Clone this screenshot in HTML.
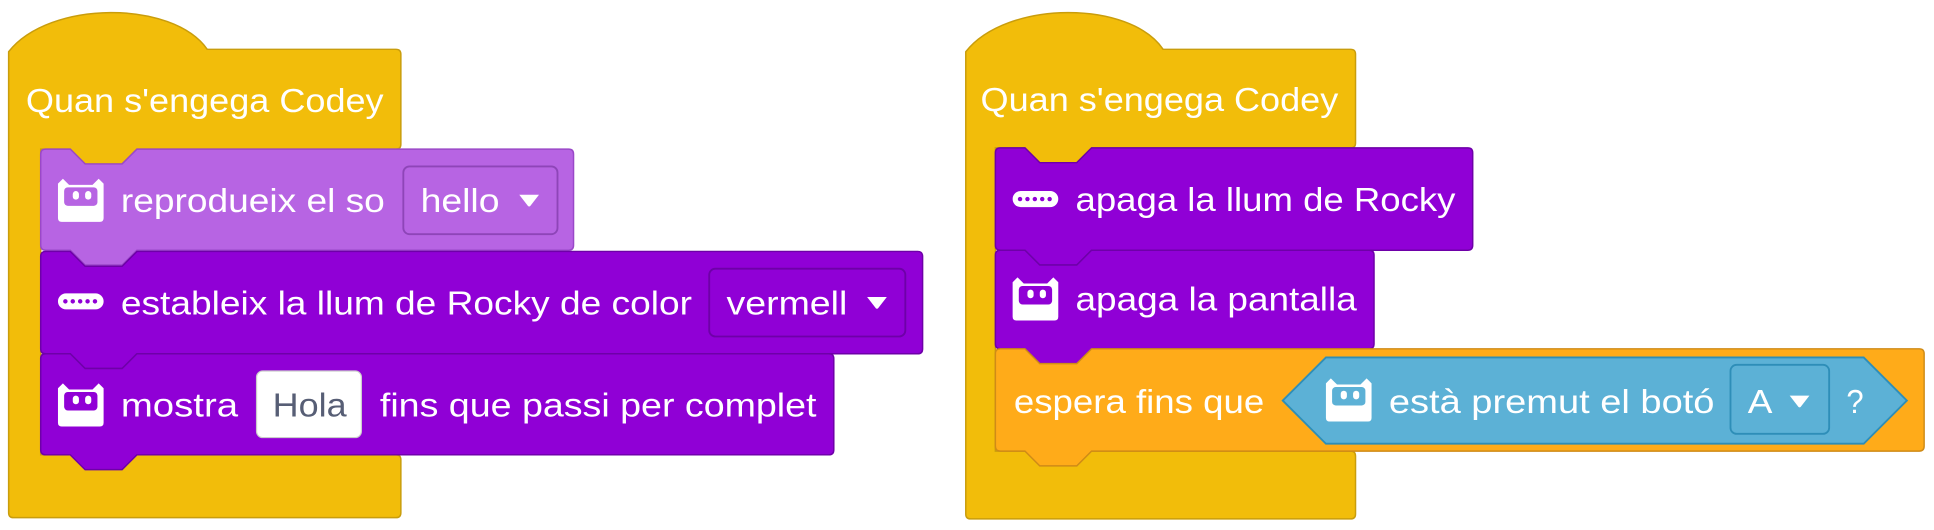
<!DOCTYPE html>
<html><head><meta charset="utf-8"><style>
html,body{margin:0;padding:0;background:#fff;}
svg{display:block;}
text{font-family:"Liberation Sans",sans-serif;font-size:27px;fill:#fff;}
</style></head><body>
<svg width="1934" height="530" viewBox="0 0 1568 430" preserveAspectRatio="none" xmlns="http://www.w3.org/2000/svg">
<defs>
<g id="robot">
<path d="M0,4 L0,32 Q0,35 3,35 L34,35 Q37,35 37,32 L37,4 L33,0 L28,5 L9,5 L4,0 Z" fill="#fff"/>
</g>
<g id="led">
<rect x="0" y="0" width="37" height="13" rx="6.5" fill="#fff"/>
</g>
</defs>

<!-- LEFT STACK -->
<path d="M7,42 C40,0 140,0 168,40 H321 Q325,40 325,44 V117 Q325,121 321,121 H111 L99,133 H69 L57,121 H33 V369 H321 Q325,369 325,373 V416 Q325,420 321,420 H11 Q7,420 7,416 Z" fill="#f2bd0a" stroke="#c99d0c" stroke-width="1.2"/>
<text x="21" y="91" textLength="290" lengthAdjust="spacingAndGlyphs">Quan s'engega Codey</text>

<path d="M33,125 Q33,121 37,121 H57 L69,133 H99 L111,121 H461 Q465,121 465,125 V199 Q465,203 461,203 H111 L99,215 H69 L57,203 H37 Q33,203 33,199 Z" fill="#b764e3" stroke="#9a48c8" stroke-width="1.2"/>
<use href="#robot" x="47" y="145"/>
<rect x="52" y="152" width="27" height="15" rx="3" fill="#b764e3"/>
<rect x="59" y="155" width="5" height="7" rx="2.5" fill="#fff"/><rect x="69" y="155" width="5" height="7" rx="2.5" fill="#fff"/>
<text x="98" y="172" textLength="214" lengthAdjust="spacingAndGlyphs">reprodueix el so</text>
<rect x="327" y="135" width="125" height="55" rx="5" fill="#b764e3" stroke="#8e45b8" stroke-width="1.5"/>
<text x="341" y="172" textLength="64" lengthAdjust="spacingAndGlyphs">hello</text>
<path d="M421,158 H437 L430,167 Q429,168 428,167 Z" fill="#fff"/>

<path d="M33,208 Q33,204 37,204 H57 L69,216 H99 L111,204 H744 Q748,204 748,208 V283 Q748,287 744,287 H111 L99,299 H69 L57,287 H37 Q33,287 33,283 Z" fill="#9000d6" stroke="#6e00a8" stroke-width="1.2"/>
<use href="#led" x="47" y="238"/>
<circle cx="53" cy="244.5" r="1.8" fill="#9000d6"/><circle cx="59" cy="244.5" r="1.8" fill="#9000d6"/><circle cx="65" cy="244.5" r="1.8" fill="#9000d6"/><circle cx="71" cy="244.5" r="1.8" fill="#9000d6"/><circle cx="77" cy="244.5" r="1.8" fill="#9000d6"/>
<text x="98" y="255" textLength="463" lengthAdjust="spacingAndGlyphs">estableix la llum de Rocky de color</text>
<rect x="575" y="218" width="159" height="55" rx="5" fill="#9000d6" stroke="#6e00a8" stroke-width="1.5"/>
<text x="589" y="255" textLength="98" lengthAdjust="spacingAndGlyphs">vermell</text>
<path d="M703,241 H719 L712,250 Q711,251 710,250 Z" fill="#fff"/>

<path d="M33,291 Q33,287 37,287 H57 L69,299 H99 L111,287 H672 Q676,287 676,291 V365 Q676,369 672,369 H111 L99,381 H69 L57,369 H37 Q33,369 33,365 Z" fill="#9000d6" stroke="#6e00a8" stroke-width="1.2"/>
<use href="#robot" x="47" y="311"/>
<rect x="52" y="318" width="27" height="15" rx="3" fill="#9000d6"/>
<rect x="59" y="321" width="5" height="7" rx="2.5" fill="#fff"/><rect x="69" y="321" width="5" height="7" rx="2.5" fill="#fff"/>
<text x="98" y="338" textLength="95" lengthAdjust="spacingAndGlyphs">mostra</text>
<rect x="208" y="301" width="85" height="54" rx="5" fill="#fff" stroke="#ccc" stroke-width="1"/>
<text x="221" y="338" textLength="60" lengthAdjust="spacingAndGlyphs" style="fill:#575e75">Hola</text>
<text x="308" y="338" textLength="354" lengthAdjust="spacingAndGlyphs">fins que passi per complet</text>

<!-- RIGHT STACK -->
<path d="M783,42 C816,0 916,0 943,40 H1095 Q1099,40 1099,44 V116 Q1099,120 1095,120 H885 L873,132 H843 L831,120 H807 V366 H1095 Q1099,366 1099,370 V417 Q1099,421 1095,421 H787 Q783,421 783,417 Z" fill="#f2bd0a" stroke="#c99d0c" stroke-width="1.2"/>
<text x="795" y="90" textLength="290" lengthAdjust="spacingAndGlyphs">Quan s'engega Codey</text>

<path d="M807,124 Q807,120 811,120 H831 L843,132 H873 L885,120 H1190 Q1194,120 1194,124 V199 Q1194,203 1190,203 H885 L873,215 H843 L831,203 H811 Q807,203 807,199 Z" fill="#9000d6" stroke="#6e00a8" stroke-width="1.2"/>
<use href="#led" x="821" y="155"/>
<circle cx="827" cy="161.5" r="1.8" fill="#9000d6"/><circle cx="833" cy="161.5" r="1.8" fill="#9000d6"/><circle cx="839" cy="161.5" r="1.8" fill="#9000d6"/><circle cx="845" cy="161.5" r="1.8" fill="#9000d6"/><circle cx="851" cy="161.5" r="1.8" fill="#9000d6"/>
<text x="872" y="171" textLength="308" lengthAdjust="spacingAndGlyphs">apaga la llum de Rocky</text>

<path d="M807,207 Q807,203 811,203 H831 L843,215 H873 L885,203 H1110 Q1114,203 1114,207 V279 Q1114,283 1110,283 H885 L873,295 H843 L831,283 H811 Q807,283 807,279 Z" fill="#9000d6" stroke="#6e00a8" stroke-width="1.2"/>
<use href="#robot" x="821" y="225"/>
<rect x="826" y="232" width="27" height="15" rx="3" fill="#9000d6"/>
<rect x="833" y="235" width="5" height="7" rx="2.5" fill="#fff"/><rect x="843" y="235" width="5" height="7" rx="2.5" fill="#fff"/>
<text x="872" y="252" textLength="228" lengthAdjust="spacingAndGlyphs">apaga la pantalla</text>

<path d="M807,287 Q807,283 811,283 H831 L843,295 H873 L885,283 H1556 Q1560,283 1560,287 V362 Q1560,366 1556,366 H885 L873,378 H843 L831,366 H811 Q807,366 807,362 Z" fill="#ffab19" stroke="#cf8b17" stroke-width="1.2"/>
<text x="822" y="335" textLength="203" lengthAdjust="spacingAndGlyphs">espera fins que</text>
<path d="M1040,325 L1075,290 H1511 L1546,325 L1511,360 H1075 Z" fill="#5cb1d6" stroke="#2e8eb8" stroke-width="1.5"/>
<use href="#robot" x="1075" y="307"/>
<rect x="1080" y="314" width="27" height="15" rx="3" fill="#5cb1d6"/>
<rect x="1087" y="317" width="5" height="7" rx="2.5" fill="#fff"/><rect x="1097" y="317" width="5" height="7" rx="2.5" fill="#fff"/>
<text x="1126" y="335" textLength="264" lengthAdjust="spacingAndGlyphs">està premut el botó</text>
<rect x="1403" y="296" width="80" height="56" rx="5" fill="#5cb1d6" stroke="#2e8eb8" stroke-width="1.5"/>
<text x="1417" y="335" textLength="20" lengthAdjust="spacingAndGlyphs">A</text>
<path d="M1451,321 H1467 L1460,330 Q1459,331 1458,330 Z" fill="#fff"/>
<text x="1497" y="335" textLength="14" lengthAdjust="spacingAndGlyphs">?</text>
</svg>
</body></html>
